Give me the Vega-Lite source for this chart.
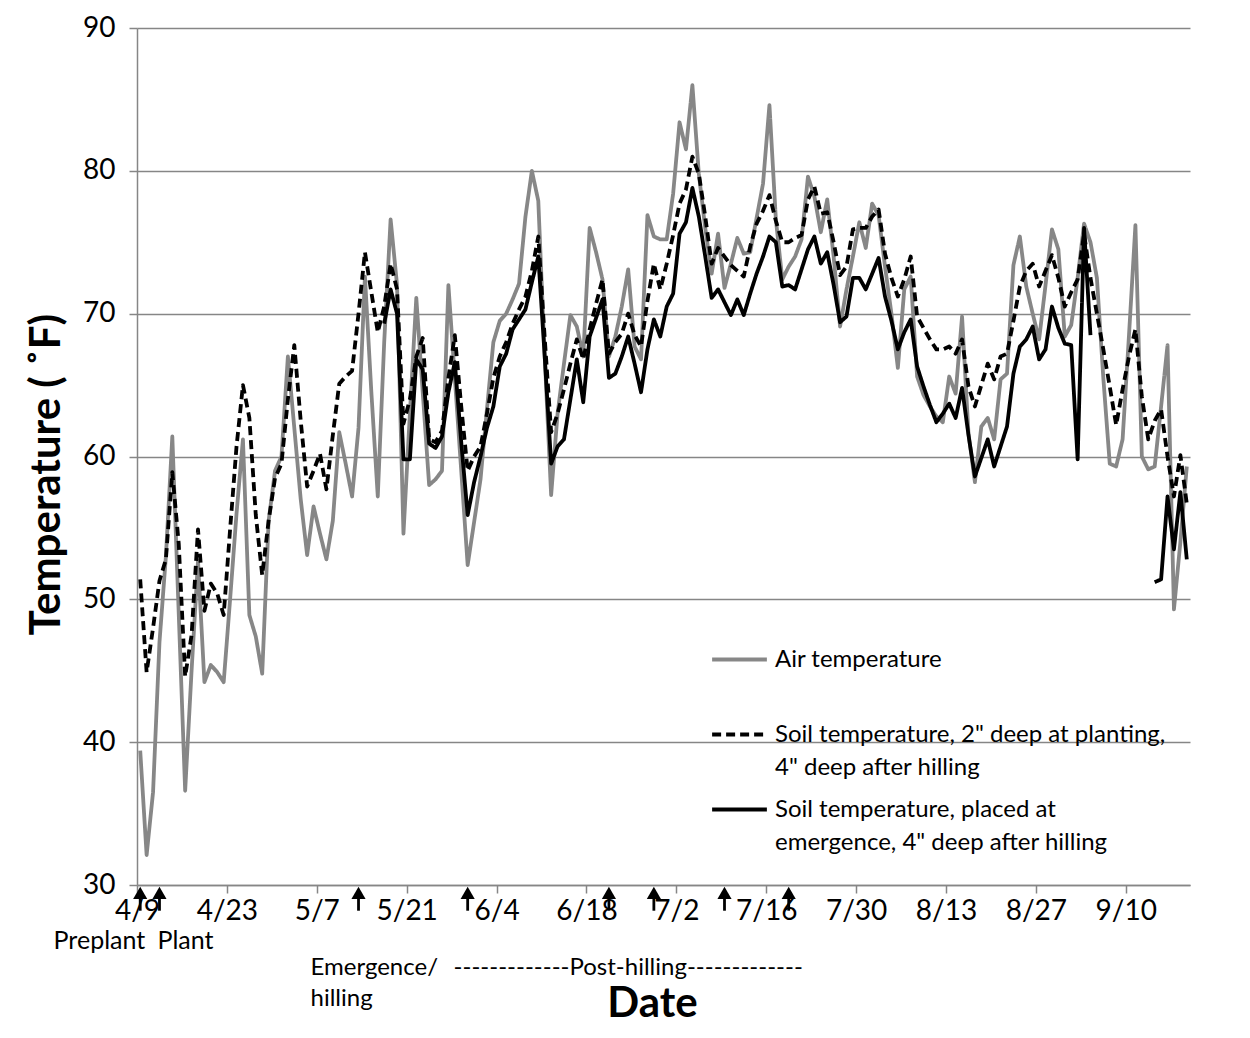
{
  "$schema": "https://vega.github.io/schema/vega-lite/v6.json",
  "width": 1053,
  "height": 857,
  "autosize": {"type": "none"},
  "padding": {"left": 137, "top": 28, "right": 60, "bottom": 153},
  "background": "white",
  "config": {
    "font": "Lato",
    "view": {"stroke": null},
    "axis": {"labelColor": "#000000", "titleColor": "#000000", "labelFont": "Lato", "titleFont": "Lato"},
    "style": {"guide-label": {"lineHeight": 33}}
  },
  "datasets": {
    "temps": [
      {"date": "2013-04-09", "air": 39.4, "soil2": 51.4, "soilEm": null},
      {"date": "2013-04-10", "air": 32.1, "soil2": 44.9, "soilEm": null},
      {"date": "2013-04-11", "air": 36.5, "soil2": 48.0, "soilEm": null},
      {"date": "2013-04-12", "air": 47.0, "soil2": 51.3, "soilEm": null},
      {"date": "2013-04-13", "air": 53.0, "soil2": 52.8, "soilEm": null},
      {"date": "2013-04-14", "air": 61.4, "soil2": 58.9, "soilEm": null},
      {"date": "2013-04-15", "air": 49.0, "soil2": 53.9, "soilEm": null},
      {"date": "2013-04-16", "air": 36.6, "soil2": 44.6, "soilEm": null},
      {"date": "2013-04-17", "air": 45.0, "soil2": 47.5, "soilEm": null},
      {"date": "2013-04-18", "air": 52.7, "soil2": 54.9, "soilEm": null},
      {"date": "2013-04-19", "air": 44.2, "soil2": 49.2, "soilEm": null},
      {"date": "2013-04-20", "air": 45.4, "soil2": 51.1, "soilEm": null},
      {"date": "2013-04-21", "air": 44.9, "soil2": 50.4, "soilEm": null},
      {"date": "2013-04-22", "air": 44.2, "soil2": 48.9, "soilEm": null},
      {"date": "2013-04-23", "air": 50.0, "soil2": 54.9, "soilEm": null},
      {"date": "2013-04-24", "air": 56.0, "soil2": 60.7, "soilEm": null},
      {"date": "2013-04-25", "air": 61.2, "soil2": 65.0, "soilEm": null},
      {"date": "2013-04-26", "air": 48.9, "soil2": 62.7, "soilEm": null},
      {"date": "2013-04-27", "air": 47.4, "soil2": 55.9, "soilEm": null},
      {"date": "2013-04-28", "air": 44.8, "soil2": 51.7, "soilEm": null},
      {"date": "2013-04-29", "air": 55.5, "soil2": 55.5, "soilEm": null},
      {"date": "2013-04-30", "air": 59.0, "soil2": 58.5, "soilEm": null},
      {"date": "2013-05-01", "air": 60.0, "soil2": 59.5, "soilEm": null},
      {"date": "2013-05-02", "air": 67.0, "soil2": 64.0, "soilEm": null},
      {"date": "2013-05-03", "air": 62.0, "soil2": 67.8, "soilEm": null},
      {"date": "2013-05-04", "air": 57.0, "soil2": 62.5, "soilEm": null},
      {"date": "2013-05-05", "air": 53.1, "soil2": 57.9, "soilEm": null},
      {"date": "2013-05-06", "air": 56.5, "soil2": 59.0, "soilEm": null},
      {"date": "2013-05-07", "air": 54.6, "soil2": 60.2, "soilEm": null},
      {"date": "2013-05-08", "air": 52.8, "soil2": 57.7, "soilEm": null},
      {"date": "2013-05-09", "air": 55.5, "soil2": 61.5, "soilEm": null},
      {"date": "2013-05-10", "air": 61.7, "soil2": 65.1, "soilEm": null},
      {"date": "2013-05-11", "air": 59.5, "soil2": 65.6, "soilEm": null},
      {"date": "2013-05-12", "air": 57.2, "soil2": 66.0, "soilEm": null},
      {"date": "2013-05-13", "air": 62.0, "soil2": 70.0, "soilEm": null},
      {"date": "2013-05-14", "air": 72.6, "soil2": 74.3, "soilEm": null},
      {"date": "2013-05-15", "air": 64.5, "soil2": 71.5, "soilEm": null},
      {"date": "2013-05-16", "air": 57.2, "soil2": 68.7, "soilEm": null},
      {"date": "2013-05-17", "air": 68.0, "soil2": 70.5, "soilEm": 69.3},
      {"date": "2013-05-18", "air": 76.6, "soil2": 73.5, "soilEm": 71.7},
      {"date": "2013-05-19", "air": 72.0, "soil2": 71.7, "soilEm": 70.0},
      {"date": "2013-05-20", "air": 54.6, "soil2": 62.3, "soilEm": 59.8},
      {"date": "2013-05-21", "air": 63.0, "soil2": 64.0, "soilEm": 59.8},
      {"date": "2013-05-22", "air": 71.1, "soil2": 67.0, "soilEm": 66.8},
      {"date": "2013-05-23", "air": 64.5, "soil2": 68.3, "soilEm": 66.1},
      {"date": "2013-05-24", "air": 58.0, "soil2": 61.2, "soilEm": 60.9},
      {"date": "2013-05-25", "air": 58.4, "soil2": 61.0, "soilEm": 60.6},
      {"date": "2013-05-26", "air": 59.0, "soil2": 61.8, "soilEm": 61.4},
      {"date": "2013-05-27", "air": 72.0, "soil2": 65.5, "soilEm": 64.5},
      {"date": "2013-05-28", "air": 65.5, "soil2": 68.5, "soilEm": 66.6},
      {"date": "2013-05-29", "air": 59.0, "soil2": 63.5, "soilEm": 61.0},
      {"date": "2013-05-30", "air": 52.4, "soil2": 59.0, "soilEm": 55.9},
      {"date": "2013-05-31", "air": 55.4, "soil2": 60.0, "soilEm": 58.2},
      {"date": "2013-06-01", "air": 58.4, "soil2": 60.7, "soilEm": 60.0},
      {"date": "2013-06-02", "air": 63.3, "soil2": 63.0, "soilEm": 62.0},
      {"date": "2013-06-03", "air": 68.0, "soil2": 65.5, "soilEm": 63.5},
      {"date": "2013-06-04", "air": 69.5, "soil2": 67.0, "soilEm": 66.3},
      {"date": "2013-06-05", "air": 70.0, "soil2": 68.0, "soilEm": 67.2},
      {"date": "2013-06-06", "air": 71.0, "soil2": 69.3, "soilEm": 68.9},
      {"date": "2013-06-07", "air": 72.1, "soil2": 70.3, "soilEm": 69.6},
      {"date": "2013-06-08", "air": 76.8, "soil2": 71.2, "soilEm": 70.3},
      {"date": "2013-06-09", "air": 80.0, "soil2": 73.0, "soilEm": 72.2},
      {"date": "2013-06-10", "air": 77.9, "soil2": 75.4, "soilEm": 74.0},
      {"date": "2013-06-11", "air": 67.0, "soil2": 68.3, "soilEm": 67.0},
      {"date": "2013-06-12", "air": 57.3, "soil2": 61.7, "soilEm": 59.5},
      {"date": "2013-06-13", "air": 63.0, "soil2": 63.0, "soilEm": 60.7},
      {"date": "2013-06-14", "air": 66.5, "soil2": 64.7, "soilEm": 61.2},
      {"date": "2013-06-15", "air": 69.9, "soil2": 66.5, "soilEm": 64.0},
      {"date": "2013-06-16", "air": 69.1, "soil2": 68.2, "soilEm": 66.8},
      {"date": "2013-06-17", "air": 67.0, "soil2": 66.8, "soilEm": 63.8},
      {"date": "2013-06-18", "air": 76.0, "soil2": 68.9, "soilEm": 68.4},
      {"date": "2013-06-19", "air": 74.3, "soil2": 70.7, "soilEm": 69.7},
      {"date": "2013-06-20", "air": 72.4, "soil2": 72.4, "soilEm": 71.0},
      {"date": "2013-06-21", "air": 67.0, "soil2": 67.2, "soilEm": 65.5},
      {"date": "2013-06-22", "air": 68.4, "soil2": 68.0, "soilEm": 65.8},
      {"date": "2013-06-23", "air": 70.5, "soil2": 68.6, "soilEm": 67.0},
      {"date": "2013-06-24", "air": 73.1, "soil2": 70.0, "soilEm": 68.4},
      {"date": "2013-06-25", "air": 67.7, "soil2": 68.5, "soilEm": 66.5},
      {"date": "2013-06-26", "air": 66.8, "soil2": 67.7, "soilEm": 64.5},
      {"date": "2013-06-27", "air": 76.9, "soil2": 70.9, "soilEm": 67.5},
      {"date": "2013-06-28", "air": 75.4, "soil2": 73.5, "soilEm": 69.6},
      {"date": "2013-06-29", "air": 75.2, "soil2": 71.7, "soilEm": 68.4},
      {"date": "2013-06-30", "air": 75.2, "soil2": 73.5, "soilEm": 70.5},
      {"date": "2013-07-01", "air": 78.4, "soil2": 75.5, "soilEm": 71.4},
      {"date": "2013-07-02", "air": 83.4, "soil2": 77.7, "soilEm": 75.6},
      {"date": "2013-07-03", "air": 81.5, "soil2": 78.7, "soilEm": 76.4},
      {"date": "2013-07-04", "air": 86.0, "soil2": 81.0, "soilEm": 78.8},
      {"date": "2013-07-05", "air": 79.8, "soil2": 79.8, "soilEm": 76.8},
      {"date": "2013-07-06", "air": 76.0, "soil2": 76.8, "soilEm": 74.0},
      {"date": "2013-07-07", "air": 72.8, "soil2": 73.5, "soilEm": 71.1},
      {"date": "2013-07-08", "air": 75.6, "soil2": 74.6, "soilEm": 71.7},
      {"date": "2013-07-09", "air": 71.8, "soil2": 74.0, "soilEm": 70.8},
      {"date": "2013-07-10", "air": 73.5, "soil2": 73.4, "soilEm": 69.9},
      {"date": "2013-07-11", "air": 75.3, "soil2": 73.0, "soilEm": 71.0},
      {"date": "2013-07-12", "air": 74.2, "soil2": 72.6, "soilEm": 69.9},
      {"date": "2013-07-13", "air": 74.3, "soil2": 74.7, "soilEm": 71.4},
      {"date": "2013-07-14", "air": 76.7, "soil2": 76.3, "soilEm": 72.8},
      {"date": "2013-07-15", "air": 79.1, "soil2": 77.2, "soilEm": 74.0},
      {"date": "2013-07-16", "air": 84.6, "soil2": 78.3, "soilEm": 75.4},
      {"date": "2013-07-17", "air": 76.6, "soil2": 76.5, "soilEm": 75.0},
      {"date": "2013-07-18", "air": 72.4, "soil2": 75.0, "soilEm": 71.9},
      {"date": "2013-07-19", "air": 73.3, "soil2": 75.0, "soilEm": 72.0},
      {"date": "2013-07-20", "air": 74.0, "soil2": 75.3, "soilEm": 71.7},
      {"date": "2013-07-21", "air": 75.2, "soil2": 75.5, "soilEm": 73.1},
      {"date": "2013-07-22", "air": 79.6, "soil2": 78.0, "soilEm": 74.5},
      {"date": "2013-07-23", "air": 78.2, "soil2": 78.9, "soilEm": 75.4},
      {"date": "2013-07-24", "air": 75.7, "soil2": 77.0, "soilEm": 73.5},
      {"date": "2013-07-25", "air": 78.0, "soil2": 77.1, "soilEm": 74.3},
      {"date": "2013-07-26", "air": 74.0, "soil2": 75.0, "soilEm": 72.0},
      {"date": "2013-07-27", "air": 69.1, "soil2": 72.7, "soilEm": 69.4},
      {"date": "2013-07-28", "air": 71.7, "soil2": 73.3, "soilEm": 69.8},
      {"date": "2013-07-29", "air": 74.0, "soil2": 75.9, "soilEm": 72.5},
      {"date": "2013-07-30", "air": 76.4, "soil2": 76.0, "soilEm": 72.5},
      {"date": "2013-07-31", "air": 74.6, "soil2": 76.0, "soilEm": 71.7},
      {"date": "2013-08-01", "air": 77.7, "soil2": 76.8, "soilEm": 72.8},
      {"date": "2013-08-02", "air": 76.9, "soil2": 77.3, "soilEm": 73.9},
      {"date": "2013-08-03", "air": 73.3, "soil2": 74.2, "soilEm": 71.2},
      {"date": "2013-08-04", "air": 70.0, "soil2": 72.5, "soilEm": 69.5},
      {"date": "2013-08-05", "air": 66.2, "soil2": 71.2, "soilEm": 67.5},
      {"date": "2013-08-06", "air": 71.7, "soil2": 72.4, "soilEm": 68.7},
      {"date": "2013-08-07", "air": 72.6, "soil2": 74.0, "soilEm": 69.6},
      {"date": "2013-08-08", "air": 65.6, "soil2": 69.8, "soilEm": 66.3},
      {"date": "2013-08-09", "air": 64.3, "soil2": 69.0, "soilEm": 64.9},
      {"date": "2013-08-10", "air": 63.5, "soil2": 68.2, "soilEm": 63.6},
      {"date": "2013-08-11", "air": 62.8, "soil2": 67.5, "soilEm": 62.4},
      {"date": "2013-08-12", "air": 62.4, "soil2": 67.5, "soilEm": 63.0},
      {"date": "2013-08-13", "air": 65.6, "soil2": 67.7, "soilEm": 63.7},
      {"date": "2013-08-14", "air": 64.4, "soil2": 67.2, "soilEm": 62.7},
      {"date": "2013-08-15", "air": 69.8, "soil2": 68.2, "soilEm": 64.8},
      {"date": "2013-08-16", "air": 61.6, "soil2": 64.9, "soilEm": 61.5},
      {"date": "2013-08-17", "air": 58.2, "soil2": 63.5, "soilEm": 58.6},
      {"date": "2013-08-18", "air": 62.1, "soil2": 65.0, "soilEm": 59.9},
      {"date": "2013-08-19", "air": 62.7, "soil2": 66.5, "soilEm": 61.2},
      {"date": "2013-08-20", "air": 61.2, "soil2": 65.4, "soilEm": 59.3},
      {"date": "2013-08-21", "air": 65.4, "soil2": 67.0, "soilEm": 60.7},
      {"date": "2013-08-22", "air": 65.8, "soil2": 67.2, "soilEm": 62.1},
      {"date": "2013-08-23", "air": 73.4, "soil2": 69.5, "soilEm": 65.8},
      {"date": "2013-08-24", "air": 75.4, "soil2": 71.9, "soilEm": 67.7},
      {"date": "2013-08-25", "air": 71.9, "soil2": 73.0, "soilEm": 68.2},
      {"date": "2013-08-26", "air": 70.0, "soil2": 73.5, "soilEm": 69.1},
      {"date": "2013-08-27", "air": 68.2, "soil2": 71.9, "soilEm": 66.8},
      {"date": "2013-08-28", "air": 72.0, "soil2": 73.0, "soilEm": 67.5},
      {"date": "2013-08-29", "air": 75.9, "soil2": 74.1, "soilEm": 70.5},
      {"date": "2013-08-30", "air": 74.5, "soil2": 72.5, "soilEm": 69.0},
      {"date": "2013-08-31", "air": 68.4, "soil2": 70.5, "soilEm": 67.9},
      {"date": "2013-09-01", "air": 69.2, "soil2": 71.5, "soilEm": 67.8},
      {"date": "2013-09-02", "air": 72.5, "soil2": 72.4, "soilEm": 59.8},
      {"date": "2013-09-03", "air": 76.3, "soil2": 75.6, "soilEm": 76.0},
      {"date": "2013-09-04", "air": 75.0, "soil2": 72.5, "soilEm": 68.5},
      {"date": "2013-09-05", "air": 72.5, "soil2": 70.0, "soilEm": null},
      {"date": "2013-09-06", "air": 65.5, "soil2": 67.5, "soilEm": null},
      {"date": "2013-09-07", "air": 59.5, "soil2": 64.9, "soilEm": null},
      {"date": "2013-09-08", "air": 59.3, "soil2": 62.2, "soilEm": null},
      {"date": "2013-09-09", "air": 61.2, "soil2": 64.7, "soilEm": null},
      {"date": "2013-09-10", "air": 68.5, "soil2": 67.0, "soilEm": null},
      {"date": "2013-09-11", "air": 76.2, "soil2": 68.9, "soilEm": null},
      {"date": "2013-09-12", "air": 60.0, "soil2": 64.2, "soilEm": null},
      {"date": "2013-09-13", "air": 59.1, "soil2": 61.2, "soilEm": null},
      {"date": "2013-09-14", "air": 59.3, "soil2": 62.5, "soilEm": 51.2},
      {"date": "2013-09-15", "air": 63.5, "soil2": 63.3, "soilEm": 51.4},
      {"date": "2013-09-16", "air": 67.8, "soil2": 60.0, "soilEm": 57.2},
      {"date": "2013-09-17", "air": 49.3, "soil2": 57.2, "soilEm": 53.5},
      {"date": "2013-09-18", "air": 54.0, "soil2": 60.1, "soilEm": 57.5},
      {"date": "2013-09-19", "air": 59.3, "soil2": 56.7, "soilEm": 52.8}
    ],
    "arrows": [
      {"date": "2013-04-09", "event": "Preplant"},
      {"date": "2013-04-12", "event": "Plant"},
      {"date": "2013-05-13", "event": "Emergence/hilling"},
      {"date": "2013-05-30", "event": "Post-hilling"},
      {"date": "2013-06-21", "event": "Post-hilling"},
      {"date": "2013-06-28", "event": "Post-hilling"},
      {"date": "2013-07-09", "event": "Post-hilling"},
      {"date": "2013-07-19", "event": "Post-hilling"}
    ],
    "notePreplant": [{"date": "2013-04-09", "label": "Preplant"}],
    "notePlant": [{"date": "2013-04-12", "label": "Plant"}],
    "noteEmergence": [{"date": "2013-05-13", "label": "Emergence/\nhilling"}],
    "notePost": [{"date": "2013-06-24", "label": "-------------Post-hilling-------------"}]
  },
  "layer": [
    {
      "data": {"name": "temps"},
      "transform": [{"fold": ["air", "soil2", "soilEm"], "as": ["series", "temp"]}],
      "mark": {"type": "line", "strokeWidth": 3.8, "invalid": "break-paths-show-domains", "strokeJoin": "round"},
      "encoding": {
        "x": {
          "field": "date", "timeUnit": "utcyearmonthdate", "type": "temporal", "bandPosition": 0.5,
          "scale": {"domain": [{"year": 2013, "month": 4, "date": 9, "utc": true}, {"year": 2013, "month": 9, "date": 20, "utc": true}]},
          "axis": {
            "title": "Date", "titleFontSize": 42, "titleFontWeight": "bold", "titlePadding": 58, "titleX": 515,
            "values": [
              {"year": 2013, "month": 4, "date": 9, "utc": true},
              {"year": 2013, "month": 4, "date": 23, "utc": true},
              {"year": 2013, "month": 5, "date": 7, "utc": true},
              {"year": 2013, "month": 5, "date": 21, "utc": true},
              {"year": 2013, "month": 6, "date": 4, "utc": true},
              {"year": 2013, "month": 6, "date": 18, "utc": true},
              {"year": 2013, "month": 7, "date": 2, "utc": true},
              {"year": 2013, "month": 7, "date": 16, "utc": true},
              {"year": 2013, "month": 7, "date": 30, "utc": true},
              {"year": 2013, "month": 8, "date": 13, "utc": true},
              {"year": 2013, "month": 8, "date": 27, "utc": true},
              {"year": 2013, "month": 9, "date": 10, "utc": true}
            ],
            "format": "%-m/%-d", "labelFontSize": 28, "labelPadding": 4, "labelFlush": false, "labelOverlap": false,
            "grid": false, "domainColor": "#868686", "domainWidth": 1.5, "tickColor": "#868686", "tickWidth": 1.5, "tickSize": 8
          }
        },
        "y": {
          "field": "temp", "type": "quantitative",
          "scale": {"domain": [30, 90], "nice": false, "zero": false},
          "axis": {
            "title": "Temperature ( ˚F)", "titleFontSize": 42, "titleFontWeight": "bold", "titlePadding": 14, "titleY": 446,
            "values": [30, 40, 50, 60, 70, 80, 90], "labelFontSize": 28, "labelPadding": 14,
            "grid": true, "gridColor": "#868686", "gridWidth": 1.5,
            "domainColor": "#868686", "domainWidth": 1.5, "tickColor": "#868686", "tickWidth": 1.5, "tickSize": 8
          }
        },
        "color": {
          "field": "series", "type": "nominal",
          "scale": {"domain": ["air", "soil2", "soilEm"], "range": ["#878787", "#000000", "#000000"]},
          "legend": {
            "orient": "none", "legendX": 573, "legendY": 602, "title": null, "padding": 0,
            "symbolType": "stroke", "symbolSize": 3000, "symbolStrokeWidth": 3.8,
            "labelFont": "Lato", "labelFontSize": 24, "labelColor": "#000000", "labelBaseline": "middle",
            "labelLimit": 700, "labelOffset": 6, "rowPadding": -8,
            "labelExpr": "datum.value == 'air' ? ['Air temperature', ''] : datum.value == 'soil2' ? ['Soil temperature, 2\" deep at planting,', '4\" deep after hilling'] : ['Soil temperature, placed at', 'emergence, 4\" deep after hilling']"
          }
        },
        "strokeDash": {
          "field": "series", "type": "nominal",
          "scale": {"domain": ["air", "soil2", "soilEm"], "range": [[1, 0], [9, 5], [1, 0]]},
          "legend": {
            "orient": "none", "legendX": 573, "legendY": 602, "title": null, "padding": 0,
            "symbolType": "stroke", "symbolSize": 3000, "symbolStrokeWidth": 3.8,
            "labelFont": "Lato", "labelFontSize": 24, "labelColor": "#000000", "labelBaseline": "middle",
            "labelLimit": 700, "labelOffset": 6, "rowPadding": -8,
            "labelExpr": "datum.value == 'air' ? ['Air temperature', ''] : datum.value == 'soil2' ? ['Soil temperature, 2\" deep at planting,', '4\" deep after hilling'] : ['Soil temperature, placed at', 'emergence, 4\" deep after hilling']"
          }
        }
      }
    },
    {
      "data": {"name": "arrows"},
      "mark": {"type": "rule", "color": "#000000", "strokeWidth": 2.8},
      "encoding": {
        "x": {"field": "date", "timeUnit": "utcyearmonthdate", "type": "temporal", "bandPosition": 0.5},
        "y": {"datum": 28.2, "type": "quantitative"},
        "y2": {"datum": 29.5}
      }
    },
    {
      "data": {"name": "arrows"},
      "mark": {"type": "point", "shape": "triangle-up", "filled": true, "color": "#000000", "opacity": 1, "size": 200},
      "encoding": {
        "x": {"field": "date", "timeUnit": "utcyearmonthdate", "type": "temporal", "bandPosition": 0.5},
        "y": {"datum": 29.45, "type": "quantitative"}
      }
    },
    {
      "data": {"name": "notePreplant"},
      "mark": {"type": "text", "font": "Lato", "fontSize": 25, "color": "#000000", "align": "right", "baseline": "alphabetic", "dx": 5},
      "encoding": {
        "x": {"field": "date", "timeUnit": "utcyearmonthdate", "type": "temporal", "bandPosition": 0.5},
        "y": {"datum": 25.55, "type": "quantitative"},
        "text": {"field": "label"}
      }
    },
    {
      "data": {"name": "notePlant"},
      "mark": {"type": "text", "font": "Lato", "fontSize": 25, "color": "#000000", "align": "left", "baseline": "alphabetic", "dx": -2},
      "encoding": {
        "x": {"field": "date", "timeUnit": "utcyearmonthdate", "type": "temporal", "bandPosition": 0.5},
        "y": {"datum": 25.55, "type": "quantitative"},
        "text": {"field": "label"}
      }
    },
    {
      "data": {"name": "noteEmergence"},
      "mark": {"type": "text", "font": "Lato", "fontSize": 24, "color": "#000000", "align": "left", "baseline": "alphabetic", "dx": -48, "lineBreak": "\n", "lineHeight": 31},
      "encoding": {
        "x": {"field": "date", "timeUnit": "utcyearmonthdate", "type": "temporal", "bandPosition": 0.5},
        "y": {"datum": 23.7, "type": "quantitative"},
        "text": {"field": "label"}
      }
    },
    {
      "data": {"name": "notePost"},
      "mark": {"type": "text", "font": "Lato", "fontSize": 24, "color": "#000000", "align": "center", "baseline": "alphabetic"},
      "encoding": {
        "x": {"field": "date", "timeUnit": "utcyearmonthdate", "type": "temporal", "bandPosition": 0.5},
        "y": {"datum": 23.7, "type": "quantitative"},
        "text": {"field": "label"}
      }
    }
  ]
}
